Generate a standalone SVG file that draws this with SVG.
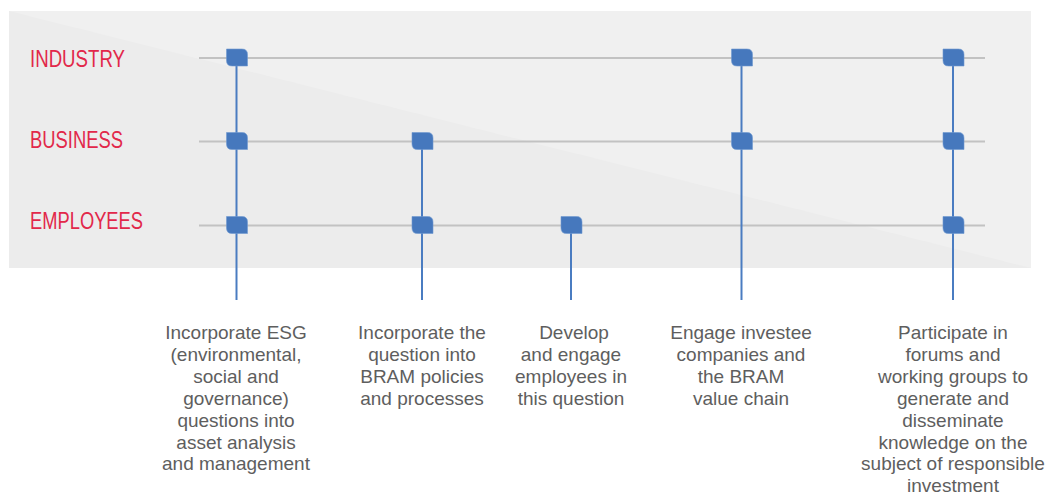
<svg xmlns="http://www.w3.org/2000/svg" width="1054" height="497" viewBox="0 0 1054 497">
<defs>
<style>
.row{stroke:#c2c2c2;stroke-width:2;fill:none}
.vl{stroke:#4a7cc1;stroke-width:2;fill:none}
.lbl{font-family:"Liberation Sans Narrow","Liberation Sans",Arial,sans-serif;font-size:23px;fill:#e2284a}
.txt{font-family:"Liberation Sans",Arial,sans-serif;font-size:19px;fill:#5e5e5e;text-anchor:middle}
</style>
<path id="nd" d="M-10.5,-8.5 H5 Q10.5,-8.5 10.5,-3 V8.5 H-5 Q-10.5,8.5 -10.5,3 Z" fill="#4678bd" stroke="#6f98d0" stroke-width="0.6"/>
</defs>
<rect width="1054" height="497" fill="#ffffff"/>
<g id="background">
<rect x="9" y="11" width="1022" height="257" fill="#ececec"/>
<polygon points="9,11 1031,11 1031,268" fill="#f0f0f0"/>
</g>
<g id="rows">
<line class="row" x1="199" y1="58" x2="985" y2="58"/>
<line class="row" x1="199" y1="141.5" x2="985" y2="141.5"/>
<line class="row" x1="199" y1="225.5" x2="985" y2="225.5"/>
</g>
<g id="labels">
<text id="industry" class="lbl" x="30" y="67" textLength="95" lengthAdjust="spacingAndGlyphs">INDUSTRY</text>
<text id="business" class="lbl" x="30" y="148" textLength="93" lengthAdjust="spacingAndGlyphs">BUSINESS</text>
<text id="employees" class="lbl" x="30" y="229" textLength="113" lengthAdjust="spacingAndGlyphs">EMPLOYEES</text>
</g>
<g id="connectors">
<line class="vl" x1="236.5" y1="58" x2="236.5" y2="300"/>
<line class="vl" x1="422" y1="141" x2="422" y2="300"/>
<line class="vl" x1="571" y1="225" x2="571" y2="300"/>
<line class="vl" x1="741.5" y1="58" x2="741.5" y2="300"/>
<line class="vl" x1="953" y1="58" x2="953" y2="300"/>
</g>
<g id="nodes">
<use href="#nd" x="237" y="57.5"/>
<use href="#nd" x="237" y="141"/>
<use href="#nd" x="237" y="225"/>
<use href="#nd" x="422.5" y="141"/>
<use href="#nd" x="422.5" y="225"/>
<use href="#nd" x="571.5" y="225"/>
<use href="#nd" x="742" y="57.5"/>
<use href="#nd" x="742" y="141"/>
<use href="#nd" x="953.5" y="57.5"/>
<use href="#nd" x="953.5" y="141"/>
<use href="#nd" x="953.5" y="225"/>
</g>
<g id="text1">
<text class="txt" x="236" y="339"><tspan x="236">Incorporate ESG</tspan><tspan x="236" dy="21.9">(environmental,</tspan><tspan x="236" dy="21.9">social and</tspan><tspan x="236" dy="21.9">governance)</tspan><tspan x="236" dy="21.9">questions into</tspan><tspan x="236" dy="21.9">asset analysis</tspan><tspan x="236" dy="21.9">and management</tspan></text>
</g>
<g id="text2">
<text class="txt" x="422" y="339"><tspan x="422">Incorporate the</tspan><tspan x="422" dy="21.9">question into</tspan><tspan x="422" dy="21.9">BRAM policies</tspan><tspan x="422" dy="21.9">and processes</tspan></text>
</g>
<g id="text3">
<text class="txt" x="571" y="339"><tspan x="574">Develop</tspan><tspan x="571" dy="21.9">and engage</tspan><tspan x="571" dy="21.9">employees in</tspan><tspan x="571" dy="21.9">this question</tspan></text>
</g>
<g id="text4">
<text class="txt" x="741" y="339"><tspan x="741">Engage investee</tspan><tspan x="741" dy="21.9">companies and</tspan><tspan x="741" dy="21.9">the BRAM</tspan><tspan x="741" dy="21.9">value chain</tspan></text>
</g>
<g id="text5">
<text class="txt" x="953" y="339"><tspan x="953">Participate in</tspan><tspan x="953" dy="21.9">forums and</tspan><tspan x="953" dy="21.9">working groups to</tspan><tspan x="953" dy="21.9">generate and</tspan><tspan x="953" dy="21.9">disseminate</tspan><tspan x="953" dy="21.9">knowledge on the</tspan><tspan x="953" dy="21.9">subject of responsible</tspan><tspan x="953" dy="21.9">investment</tspan></text>
</g>
</svg>
